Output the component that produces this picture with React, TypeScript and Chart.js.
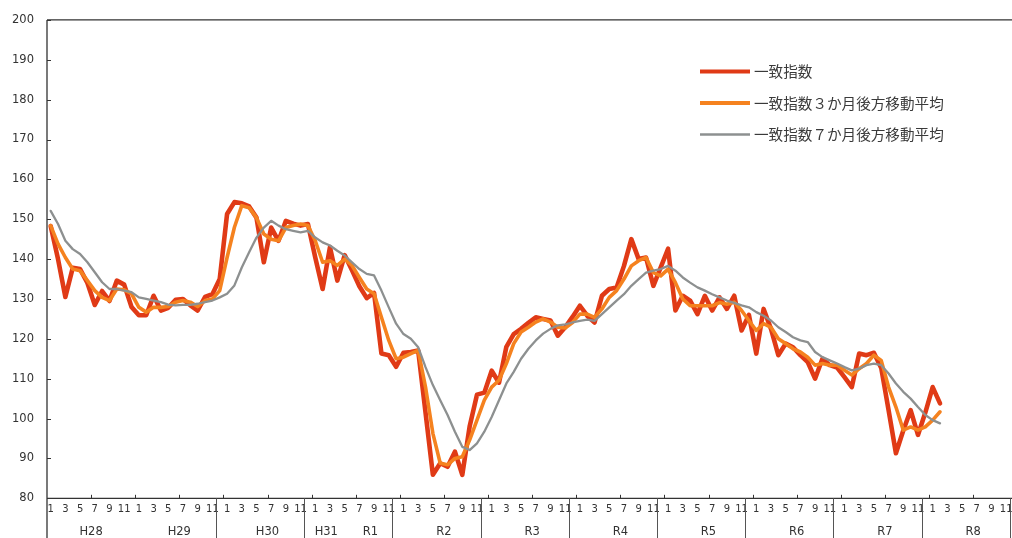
import { useEffect, useRef } from "react";
import { Chart, registerables } from "chart.js";

Chart.register(...registerables);

// ---- data ----
const MONTHS = ["1", "2", "3", "4", "5", "6", "7", "8", "9", "10", "11", "12"];
const YEAR_COUNT = 11; // 2016 (H28) .. 2026 (R8)
const CATEGORIES: string[] = [];
for (let y = 0; y < YEAR_COUNT; y++) for (const m of MONTHS) CATEGORIES.push(m);

const GROUP_LABELS = ["H28", "H29", "H30", "H31", "R1", "R2", "R3", "R4", "R5", "R6", "R7", "R8"];
const GROUP_START = [0, 12, 24, 36, 40, 48, 60, 72, 84, 96, 108, 120];
const GROUP_END = [11, 23, 35, 39, 47, 59, 71, 83, 95, 107, 119, 131];
const SEPARATORS = [23, 35, 47, 59, 71, 83, 95, 107, 119, 131];
const Y_TICKS = [80, 90, 100, 110, 120, 130, 140, 150, 160, 170, 180, 190, 200];

const LEGEND_LABELS = ["一致指数", "一致指数３か月後方移動平均", "一致指数７か月後方移動平均"];

const CI = [
  148.3, 140, 130.5, 137.8, 137.5, 134, 128.5, 132, 129.5, 134.6, 133.6, 128,
  125.9, 125.9, 130.8, 127.1, 127.8, 129.8, 130, 128.4, 127.1, 130.5, 131.2, 135,
  151.3, 154.3, 154, 153.2, 150.4, 139.2, 147.9, 144.6, 149.6, 148.9, 148.4, 148.8,
  140.4, 132.5, 143, 134.6, 141, 137.2, 133.2, 130.2, 131.5, 116.3, 115.9, 113,
  116.5, 116.7, 117.1, 101.5, 85.9, 88.8, 87.9, 91.7, 85.9, 98, 106, 106.5,
  112, 109, 118, 121.2, 122.5, 124, 125.4, 125, 124.6, 120.8, 122.9, 125.5,
  128.3, 125.8, 124.1, 130.8, 132.5, 132.9, 138.3, 145, 140, 140.4, 133.3, 137.9,
  142.6, 127.1, 130.8, 129.6, 126.2, 130.8, 127.1, 130.4, 127.5, 130.8, 122.1, 126,
  116.3, 127.5, 122.5, 115.9, 118.8, 117.9, 115.9, 114.2, 110, 115, 113.4, 112.8,
  110.4, 107.9, 116.3, 115.9, 116.5, 112.7, 102.1, 91.3, 97, 102.1, 95.9, 101.5,
  107.9, 103.8,
];

const CI_MA3 = [
  148.4, 143.8, 140.4, 137.5, 137.1, 134.6, 132.1, 130.4, 129.6, 132.5, 132.3, 131.3,
  127.9, 126.7, 127.9, 127.9, 128.1, 129.2, 129.6, 129.2, 128.1, 129.6, 130, 132.1,
  140.4, 148, 153.4, 152.9, 150.4, 146.3, 145, 144.6, 147.9, 148.4, 148.8, 148.4,
  144.6, 139.2, 139.6, 138.4, 140, 138.4, 135.4, 132.5, 131.3, 125.4, 119.6, 115,
  115.4, 116.3, 117.1, 107.9, 96.3, 88.8, 88.4, 90, 90.4, 94.6, 99.6, 104.6,
  107.9, 109.6, 113.8, 118.8, 121.7, 122.9, 124.2, 125, 124.2, 122.9, 122.7, 124.1,
  126.2, 126.2, 125.4, 127.5, 130.4, 132.1, 135, 138.3, 139.6, 140.4, 136.6, 135.8,
  137.5, 134.1, 130, 128.3, 128.3, 128.3, 128.3, 129.1, 128.7, 129.2, 127.1, 124.6,
  122.1, 123.8, 122.9, 120, 118.8, 117.5, 116.7, 115.4, 113.4, 113.8, 113.4, 113.4,
  112.1, 110.9, 112.5, 113.8, 115.9, 114.6, 107.9, 102.9, 97.1, 97.9, 97.1, 97.9,
  99.6, 101.7,
];

const CI_MA7 = [
  152.1, 148.8, 144.6, 142.5, 141.3, 139.2, 136.7, 134.2, 132.5, 132.5, 132.1, 131.7,
  130.4, 130, 129.6, 129.2, 128.6, 128.4, 128.5, 128.5, 128.8, 129.2, 129.6, 130.4,
  131.3, 133.4, 137.9, 141.7, 145.4, 147.9, 149.6, 148.4, 147.5, 147.1, 146.7, 147.1,
  145.4, 144.2, 143.4, 142.1, 140.9, 139.2, 137.5, 136.3, 135.9, 132.1, 127.9, 123.8,
  121.2, 120, 117.9, 112.9, 108.4, 104.6, 100.9, 96.7, 92.9, 92.1, 93.8, 96.7,
  100.4, 104.6, 108.8, 111.7, 115, 117.5, 119.6, 121.3, 122.5, 123.4, 123.6, 124.1,
  124.5, 124.8, 124.5, 126.2, 127.9, 129.6, 131.2, 133.3, 135, 136.6, 137.1, 137.5,
  138.3, 137.1, 135.4, 134.1, 132.9, 132.1, 131.2, 130.4, 129.6, 129, 128.4, 127.9,
  126.7, 125.8, 124.6, 122.9, 121.7, 120.4, 119.6, 119.2, 116.7, 115.4, 114.6, 113.8,
  112.9, 112.1, 112.5, 113.4, 113.8, 113.4, 111.3, 108.8, 106.7, 105, 102.9, 100.9,
  99.6, 98.8,
];

const COLORS = ["#e03a16", "#f5821f", "#8d9090"];
const WIDTHS = [4.6, 3.6, 2.3];

const AXIS_FONT = "DejaVu Sans";

const decorPlugin = {
  id: "decor",
  afterDraw(chart: any) {
    const { ctx, chartArea: a, scales } = chart;
    const x = scales.x;
    const y = scales.y;
    const step = x.getPixelForValue(1) - x.getPixelForValue(0);
    const half = step / 2;
    const edge = (i: number) => x.getPixelForValue(0) - half + step * i;
    ctx.save();
    ctx.strokeStyle = "#333333";
    ctx.lineWidth = 1.3;
    ctx.beginPath();
    ctx.moveTo(a.left, a.top);
    ctx.lineTo(a.right, a.top);
    ctx.lineTo(a.right, a.bottom);
    ctx.moveTo(a.left, a.top);
    ctx.lineTo(a.left, chart.height);
    ctx.moveTo(a.left, a.bottom);
    ctx.lineTo(a.right, a.bottom);
    ctx.stroke();

    ctx.lineWidth = 1;
    ctx.beginPath();
    for (const v of Y_TICKS) {
      const yy = Math.round(y.getPixelForValue(v)) + 0.5;
      ctx.moveTo(a.left, yy);
      ctx.lineTo(a.left + 4, yy);
    }
    for (let k = 6; k <= CATEGORIES.length; k += 6) {
      const xx = Math.round(edge(k)) + 0.5;
      ctx.moveTo(xx, a.bottom);
      ctx.lineTo(xx, a.bottom - 3.5);
    }
    ctx.stroke();

    ctx.strokeStyle = "#555555";
    ctx.beginPath();
    for (const s of SEPARATORS) {
      const xx = Math.round(edge(s)) + 0.5;
      ctx.moveTo(xx, a.bottom);
      ctx.lineTo(xx, chart.height);
    }
    ctx.stroke();

    ctx.fillStyle = "#333333";
    ctx.font = `11.5px "${AXIS_FONT}"`;
    ctx.textAlign = "center";
    ctx.textBaseline = "middle";
    GROUP_LABELS.forEach((lab, gi) => {
      const cx = (edge(GROUP_START[gi]) + edge(GROUP_END[gi] + 1)) / 2;
      ctx.fillText(lab, cx, a.bottom + 33.5);
    });

    // legend
    const lx = 700;
    const rows = [71.5, 103, 134.5];
    ctx.font = `14.6px "Noto Sans CJK JP"`;
    ctx.textAlign = "left";
    ctx.textBaseline = "middle";
    LEGEND_LABELS.forEach((lab, i) => {
      ctx.strokeStyle = COLORS[i];
      ctx.lineWidth = i === 2 ? 2.5 : 4;
      ctx.lineCap = "butt";
      ctx.beginPath();
      ctx.moveTo(lx, rows[i]);
      ctx.lineTo(lx + 50, rows[i]);
      ctx.stroke();
      ctx.fillStyle = "#3a3a3a";
      ctx.fillText(lab, lx + 54, rows[i]);
    });
    ctx.restore();
  },
};

export default function App() {
  const ref = useRef<HTMLCanvasElement | null>(null);

  useEffect(() => {
    if (!ref.current) return;
    const series = [CI, CI_MA3, CI_MA7];
    const chart = new Chart(ref.current, {
      type: "line",
      data: {
        labels: CATEGORIES,
        datasets: series.map((d, i) => ({
          label: LEGEND_LABELS[i],
          data: d,
          borderColor: COLORS[i],
          backgroundColor: COLORS[i],
          borderWidth: WIDTHS[i],
          pointRadius: 0,
          pointHoverRadius: 0,
          tension: 0,
          fill: false,
          borderJoinStyle: "round" as const,
          borderCapStyle: "round" as const,
          order: 3 - i,
        })),
      },
      options: {
        animation: false,
        responsive: true,
        maintainAspectRatio: false,
        events: [],
        layout: { padding: { top: 18.3, left: 0, right: 22.8, bottom: 0 } },
        plugins: {
          legend: { display: false },
          tooltip: { enabled: false },
          title: { display: false },
        },
        scales: {
          x: {
            type: "category",
            offset: true,
            grid: { display: false, drawTicks: false },
            border: { display: false },
            afterFit: (s: any) => {
              s.height = 39.7;
            },
            ticks: {
              autoSkip: false,
              maxRotation: 0,
              minRotation: 0,
              padding: 5,
              color: "#333333",
              font: { family: AXIS_FONT, size: 10 },
              callback: (_v: any, idx: number) =>
                parseInt(CATEGORIES[idx], 10) % 2 === 1 ? CATEGORIES[idx] : "",
            },
          },
          y: {
            min: 80,
            max: 200,
            grid: { display: false, drawTicks: false },
            border: { display: false },
            afterFit: (s: any) => {
              s.width = 47;
            },
            afterBuildTicks: (s: any) => {
              s.ticks = Y_TICKS.map((v) => ({ value: v }));
            },
            ticks: {
              padding: 13,
              color: "#333333",
              font: { family: AXIS_FONT, size: 11.5 },
            },
          },
        },
      },
      plugins: [decorPlugin],
    });
    return () => chart.destroy();
  }, []);

  return (
    <div
      style={{
        position: "absolute",
        left: 0,
        top: 0,
        width: 1012,
        height: 538,
        overflow: "hidden",
        background: "#ffffff",
      }}
    >
      <div style={{ position: "relative", width: 1040, height: 538 }}>
        <canvas ref={ref} />
      </div>
    </div>
  );
}
